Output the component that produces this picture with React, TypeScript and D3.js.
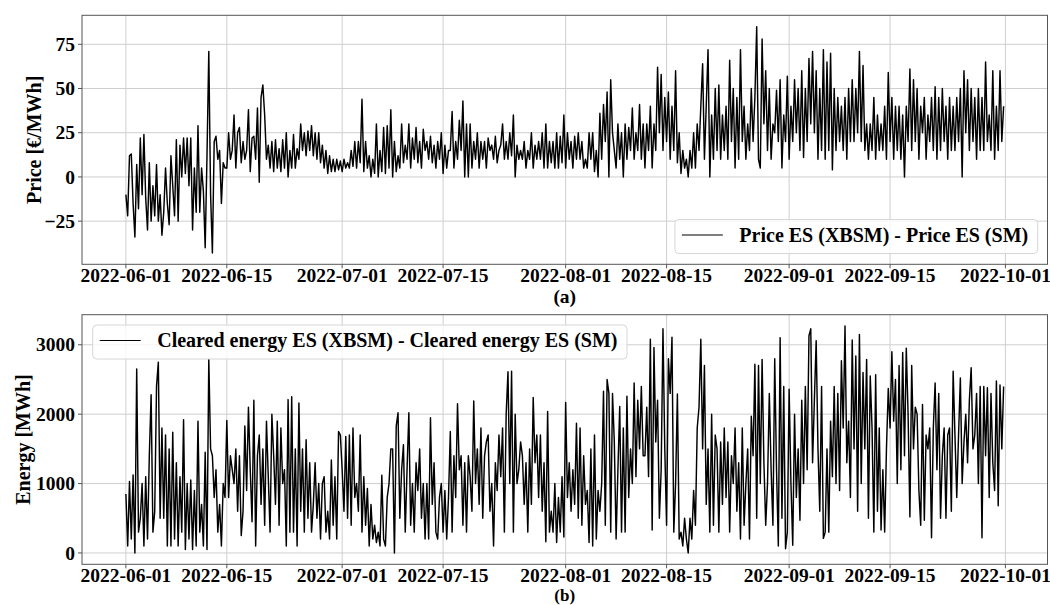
import { useEffect, useRef } from 'react';
import * as d3 from 'd3';

// 6-hourly readings, 2022-06-01 .. 2022-09-30 (4 per day)
const startTime = Date.UTC(2022, 5, 1);
const stepHours = 6;

// Price ES (XBSM) - Price ES (SM), €/MWh
const priceDiff = [
  -10, -22, 12, 13,  -15, -34, 7, -18,  22, -10, 24, -12,  -30, 8, -25, -5,
  -22, 7, -25, -10,  -33, -20, 5, -15,  -27, 12, -5, -22,  21, -25, 18, 0,
  22, 2, 22, -5,  22, -30, 5, -20,  29, -20, 5, -8,  -40, 12, 71, -10,
  -43, 20, 23, 10,  15, -15, 8, 5,  5, 25, 10, 15,  35, 5, 25, 28,
  8, 20, 10, 15,  38, 3, 22, 23,  10, 39, -3, 45,  52, 35, 10, 18,
  5, 20, 3, 21,  5, 16, 3, 21,  5, 25, 0, 15,  5, 24, 5, 16,
  10, 30, 15, 25,  12, 26, 15, 29,  12, 25, 10, 25,  8, 18, 5, 15,
  2, 12, 3, 10,  3, 10, 4, 9,  3, 10, 5, 8,  5, 15, 6, 20,
  5, 20, 8, 44,  3, 20, 5, 12,  0, 10, 2, 30,  0, 15, 3, 28,
  2, 29, 5, 38,  0, 20, 3, 12,  5, 30, 8, 18,  10, 30, 5, 22,
  10, 28, 8, 20,  5, 27, 15, 20,  10, 23, 8, 18,  5, 20, 10, 25,
  2, 18, 5, 15,  15, 37, 5, 20,  10, 32, 15, 43,  0, 30, 0, 30,
  5, 20, 10, 25,  5, 20, 10, 20,  5, 22, 15, 18,  10, 23, 8, 15,
  18, 30, 10, 20,  10, 25, 12, 35,  0, 18, 10, 15,  10, 20, 5, 15,
  10, 25, 5, 18,  10, 20, 10, 25,  5, 30, 5, 20,  8, 20, 5, 25,
  5, 23, 8, 35,  5, 25, 10, 20,  5, 23, 10, 25,  10, 20, 5, 10,
  5, 25, 10, 25,  3, 15, 0, 36,  10, 41, 20, 48,  0, 55, 25, 15,
  5, 30, 10, 25,  0, 30, 10, 28,  15, 39, 10, 25,  15, 41, 10, 30,
  5, 30, 15, 40,  5, 30, 15, 62,  25, 58, 15, 45,  20, 48, 10, 40,
  15, 60, 8, 25,  2, 15, 5, 10,  0, 15, 5, 25,  5, 30, 15, 40,
  64, 10, 40, 72,  0, 35, 10, 50,  15, 52, 10, 35,  15, 40, 10, 66,
  20, 50, 5, 45,  10, 72, 20, 40,  10, 30, 15, 50,  20, 45, 85, 10,
  5, 78, 30, 60,  15, 50, 10, 30,  25, 49, 20, 55,  5, 35, 20, 57,
  10, 40, 20, 55,  25, 50, 15, 60,  11, 50, 20, 67,  30, 71, 25, 60,
  10, 50, 15, 72,  10, 65, 15, 70,  4, 50, 15, 45,  20, 40, 15, 45,
  10, 50, 20, 55,  20, 50, 25, 71,  20, 63, 15, 30,  10, 30, 15, 45,
  10, 35, 15, 30,  15, 40, 10, 59,  20, 45, 10, 40,  15, 40, 10, 35,
  0, 40, 20, 61,  15, 55, 20, 50,  10, 40, 25, 45,  10, 35, 20, 45,
  15, 51, 10, 45,  15, 50, 20, 40,  10, 45, 15, 40,  15, 45, 20, 50,
  0, 60, 25, 55,  15, 50, 20, 45,  10, 50, 15, 45,  15, 65, 20, 35,
  15, 60, 10, 40,  15, 60, 20, 40,
];

// Cleared energy ES (XBSM) - Cleared energy ES (SM), MWh
const energyDiff = [
  850, 100, 1030, 200,  1125, 0, 2650, 300,  500, 1000, 100, 1100,  200, 1400, 2280, 300,
  600, 2400, 2750, 500,  1800, 500, 1700, 100,  1500, 100, 1740, 200,  1300, 100, 1100, 300,
  1920, 50, 1000, 200,  1050, 50, 900, 100,  1900, 300, 700, 100,  1450, 50, 2790, 1500,
  1400, 800, 1200, 300,  700, 100, 1000, 800,  1910, 800, 1400, 1200,  1000, 1500, 600, 1400,
  250, 600, 1830, 900,  2100, 1200, 450, 2200,  100, 1400, 1700, 700,  1500, 400, 1900, 1100,
  300, 2000, 1400, 700,  1900, 400, 1800, 1000,  1200, 100, 2210, 300,  2250, 300, 1500, 100,
  2160, 600, 1500, 300,  1630, 500, 1300, 300,  700, 1300, 500, 1000,  200, 1000, 1100, 300,
  600, 200, 1340, 400,  1100, 200, 1750, 1700,  1200, 600, 1680, 500,  1700, 400, 1800, 800,
  1000, 600, 1700, 300,  1100, 400, 930, 100,  700, 200, 400, 150,  300, 100, 1120, 200,
  100, 800, 1000, 1500,  1500, 0, 1830, 2020,  500, 1200, 1560, 300,  1200, 2020, 400, 1000,
  300, 1300, 900, 1500,  500, 1000, 200, 1000,  200, 1950, 700, 1300,  300, 200, 800, 1000,
  300, 900, 200, 800,  1750, 300, 1400, 800,  2150, 1200, 1400, 400,  1300, 300, 1400, 1100,
  600, 2190, 1000, 1500,  700, 1800, 500, 1400,  1600, 1700, 600, 1000,  100, 1300, 900, 1700,
  1100, 1800, 300, 2000,  2610, 1000, 2620, 300,  2000, 1000, 1200, 1600,  1400, 700, 1300, 300,
  1500, 700, 2240, 1300,  1700, 800, 1700, 600,  1300, 160, 2040, 300,  600, 300, 1000, 150,
  800, 300, 1100, 230,  2170, 800, 1300, 600,  1200, 700, 1870, 500,  1800, 400, 1400, 700,
  900, 150, 1500, 100,  1700, 200, 900, 600,  1000, 2330, 400, 2500,  2300, 300, 2300, 1600,
  200, 1200, 2110, 300,  1800, 300, 2260, 800,  1500, 1000, 2450, 1100,  2200, 1500, 2400, 1400,
  1400, 2100, 1100, 3080,  330, 2960, 1600, 2200,  500, 1200, 3230, 1500,  400, 2800, 2300, 3110,
  300, 1000, 2290, 200,  300, 100, 500, 200,  0, 500, 200, 900,  400, 1800, 2100, 3080,
  1500, 2700, 700, 1500,  300, 2000, 400, 1700,  1500, 300, 1600, 700,  1800, 800, 1600, 300,
  1400, 1000, 1800, 600,  1300, 200, 1800, 400,  1000, 1500, 200, 1970,  1400, 2720, 500, 2700,
  1000, 2790, 1300, 400,  1000, 2300, 1200, 400,  2800, 1200, 100, 3100,  500, 2400, 60, 300,
  2360, 1000, 110, 2000,  800, 1500, 470, 2200,  1000, 2400, 1200, 3130,  3230, 1300, 2200, 3060,
  1500, 600, 2400, 210,  300, 1500, 300, 1900,  1100, 2400, 1000, 2300,  900, 2770, 1800, 3270,
  1300, 1900, 800, 3070,  1500, 2840, 600, 3150,  1000, 2600, 1500, 2790,  500, 2550, 1800, 300,
  2570, 600, 1800, 330,  1200, 300, 1500, 2370,  1800, 2900, 1900, 2500,  1000, 2700, 1200, 2890,
  1400, 2950, 2000, 520,  2700, 1500, 2100, 2000,  900, 400, 2140, 470,  1700, 1500, 1800, 220,
  1800, 2450, 1200, 2300,  500, 1400, 1800, 500,  1700, 1800, 600, 2620,  1700, 800, 1700, 2520,
  1000, 1600, 2000, 1300,  2200, 2670, 1500, 1700,  2300, 1000, 2400, 220,  2400, 1400, 2380, 800,
  2300, 1300, 900, 2480,  680, 2420, 1500, 2400,
];

const dateTicks = ['2022-06-01', '2022-06-15', '2022-07-01', '2022-07-15', '2022-08-01',
  '2022-08-15', '2022-09-01', '2022-09-15', '2022-10-01'];
const priceTicks = [-25, 0, 25, 50, 75];
const energyTicks = [0, 1000, 2000, 3000];

const W = 1050;
const H = 605;
const FONT = '"Liberation Serif", "Times New Roman", Times, serif';

const panels = [
  {
    values: priceDiff,
    ticks: priceTicks,
    yLabel: 'Price [€/MWh]',
    legend: 'Price ES (XBSM) - Price ES (SM)',
    caption: '(a)',
    captionGap: 38.5,
    captionSize: 19.5,
    top: 15.3,
    bottom: 264.3,
    labelX: 40.5,
    legendRight: true,
    legendTop: 219.5,
  },
  {
    values: energyDiff,
    ticks: energyTicks,
    yLabel: 'Energy [MWh]',
    legend: 'Cleared energy ES (XBSM) - Cleared energy ES (SM)',
    caption: '(b)',
    captionGap: 36.7,
    captionSize: 17,
    top: 314.7,
    bottom: 564.3,
    labelX: 29.5,
    legendRight: false,
    legendTop: 325,
  },
];

const App = () => {
  const svgRef = useRef<SVGSVGElement | null>(null);

  useEffect(() => {
    if (!svgRef.current) return;
    const svg = d3.select(svgRef.current);
    svg.selectAll('*').remove();

    const left = 82;
    const right = 1047.5;

    panels.forEach((p) => {
      const pts = p.values.map((v, i) => ({ t: new Date(startTime + i * stepHours * 3600 * 1000), v }));

      // matplotlib-like 5% margins
      const [t0, t1] = d3.extent(pts, d => d.t.getTime()) as [number, number];
      const tPad = (t1 - t0) * 0.05;
      const x = d3.scaleUtc().domain([new Date(t0 - tPad), new Date(t1 + tPad)]).range([left, right]);

      const [v0, v1] = d3.extent(pts, d => d.v) as [number, number];
      const vPad = (v1 - v0) * 0.05;
      const y = d3.scaleLinear().domain([v0 - vPad, v1 + vPad]).range([p.bottom, p.top]);

      const g = svg.append('g');
      const tickDates = dateTicks.map(s => new Date(s + 'T00:00:00Z'));

      // grid
      g.append('g')
        .selectAll('line')
        .data(tickDates)
        .join('line')
        .attr('x1', d => x(d)).attr('x2', d => x(d))
        .attr('y1', p.top).attr('y2', p.bottom)
        .attr('stroke', '#cfcfcf').attr('stroke-width', 1);
      g.append('g')
        .selectAll('line')
        .data(p.ticks)
        .join('line')
        .attr('x1', left).attr('x2', right)
        .attr('y1', d => y(d)).attr('y2', d => y(d))
        .attr('stroke', '#cfcfcf').attr('stroke-width', 1);

      // series
      const line = d3.line<{ t: Date; v: number }>()
        .x(d => x(d.t))
        .y(d => y(d.v));
      g.append('path')
        .datum(pts)
        .attr('d', line)
        .attr('fill', 'none')
        .attr('stroke', '#000')
        .attr('stroke-width', 1.45)
        .attr('stroke-linejoin', 'round');

      // frame
      g.append('rect')
        .attr('x', left).attr('y', p.top)
        .attr('width', right - left).attr('height', p.bottom - p.top)
        .attr('fill', 'none').attr('stroke', '#555').attr('stroke-width', 1);

      // x ticks
      const xt = g.append('g')
        .selectAll('g')
        .data(tickDates)
        .join('g')
        .attr('transform', d => `translate(${x(d)},${p.bottom})`);
      xt.append('line').attr('y2', 4).attr('stroke', '#555');
      xt.append('text')
        .attr('y', 17.6)
        .attr('text-anchor', 'middle')
        .attr('font-family', FONT).attr('font-weight', 'bold').attr('font-size', 19.5)
        .text(d => d3.utcFormat('%Y-%m-%d')(d));

      // y ticks
      const yt = g.append('g')
        .selectAll('g')
        .data(p.ticks)
        .join('g')
        .attr('transform', d => `translate(${left},${y(d)})`);
      yt.append('line').attr('x2', -4).attr('stroke', '#555');
      yt.append('text')
        .attr('x', -7)
        .attr('dy', '0.34em')
        .attr('text-anchor', 'end')
        .attr('font-family', FONT).attr('font-weight', 'bold').attr('font-size', 19.5)
        .text(d => (d < 0 ? '\u2212' + Math.abs(d) : String(d)));

      // y label
      g.append('text')
        .attr('transform', `translate(${p.labelX},${(p.top + p.bottom) / 2}) rotate(-90)`)
        .attr('text-anchor', 'middle')
        .attr('font-family', FONT).attr('font-weight', 'bold').attr('font-size', 20)
        .text(p.yLabel);

      // caption
      g.append('text')
        .attr('x', (left + right) / 2)
        .attr('y', p.bottom + p.captionGap)
        .attr('text-anchor', 'middle')
        .attr('font-family', FONT).attr('font-weight', 'bold').attr('font-size', p.captionSize)
        .text(p.caption);

      // legend
      const lg = g.append('g');
      const box = lg.append('rect');
      const sample = lg.append('line');
      const label = lg.append('text')
        .attr('font-family', FONT).attr('font-weight', 'bold').attr('font-size', 20)
        .text(p.legend);
      const textLen = (label.node() as SVGTextElement).getComputedTextLength();
      const boxW = 64.5 + textLen + 9.5;
      const boxH = 34;
      const bx = p.legendRight ? right - 9.8 - boxW : left + 10.7;
      box.attr('x', bx).attr('y', p.legendTop)
        .attr('width', boxW).attr('height', boxH)
        .attr('rx', 4)
        .attr('fill', '#fff').attr('fill-opacity', 0.8)
        .attr('stroke', '#d6d6d6').attr('stroke-width', 1);
      sample.attr('x1', bx + 7).attr('x2', bx + 48)
        .attr('y1', p.legendTop + 15.5).attr('y2', p.legendTop + 15.5)
        .attr('stroke', '#000').attr('stroke-width', 1.2);
      label.attr('x', bx + 64.5).attr('y', p.legendTop + 22.3);
    });
  }, []);

  return (
    <div style={{ position: 'fixed', left: 0, top: 0, width: W, height: H, background: '#fff' }}>
      <svg ref={svgRef} width={W} height={H} style={{ display: 'block' }} />
    </div>
  );
};

export default App;
